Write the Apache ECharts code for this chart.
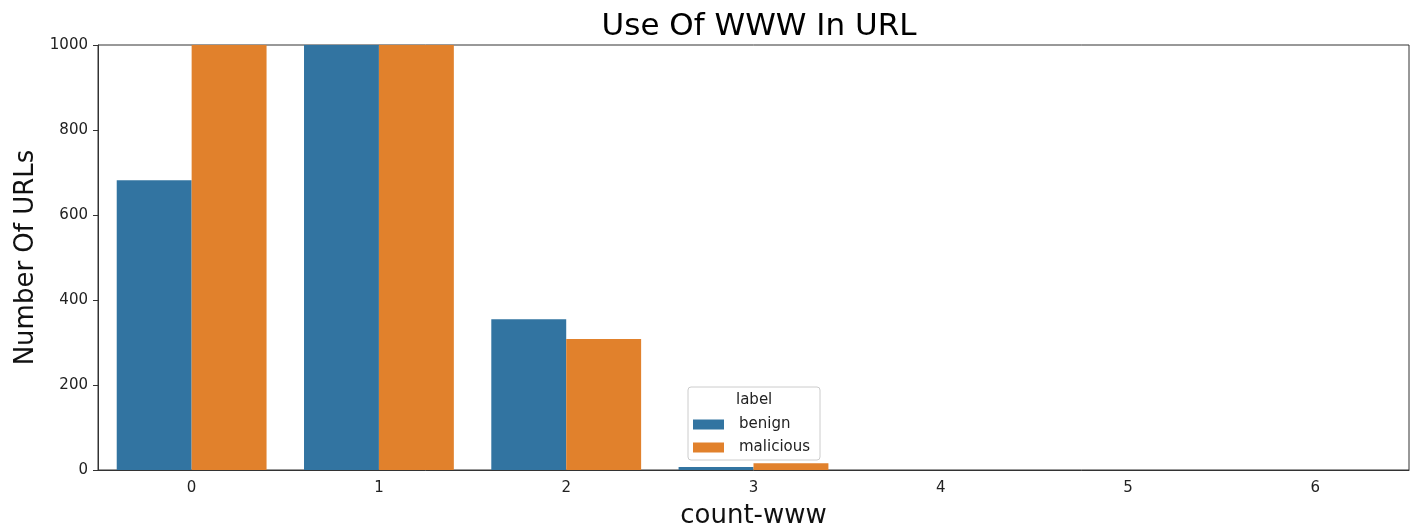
<!DOCTYPE html>
<html><head><meta charset="utf-8">
<script src="https://cdn.jsdelivr.net/npm/echarts@6/dist/echarts.min.js"></script>
<style>html,body{margin:0;padding:0;background:#fff}#c{width:1414px;height:529px}</style>
</head><body><div id="c"></div>
<script>
const categories = ['0','1','2','3','4','5','6'];
const benign = [682, 1200, 355, 7, 0, 0, 0];
const malicious = [1250, 1200, 308, 16, 0, 0, 0];
const yTicks = [0, 200, 400, 600, 800, 1000];
const seriesNames = ['benign', 'malicious'];

const FONT = 'DejaVu Sans';
const chart = echarts.init(document.getElementById('c'));
chart.setOption({
  animation: false,
  backgroundColor: '#fff',
  textStyle: {fontFamily: FONT},
  title: {text: 'Use Of WWW In URL', left: 754, top: 6, textAlign: 'center',
    textStyle: {fontSize: 31, fontWeight: 'normal', color: '#000', fontFamily: FONT}},
  grid: {left: 98, right: 5, top: 45, bottom: 59, containLabel: false, outerBoundsMode: 'none',
    show: true, borderColor: '#333', borderWidth: 1, backgroundColor: 'transparent'},
  legend: {
    data: seriesNames, orient: 'vertical', left: 688, top: 412,
    itemWidth: 31, itemHeight: 10, itemGap: 8,
    icon: 'rect',
    textStyle: {fontSize: 15, color: '#222', fontFamily: FONT, padding: [0, 0, 0, 10]}
  },
  graphic: [
    {type: 'rect', shape: {x: 688, y: 387, width: 132, height: 73, r: 3},
      style: {fill: 'rgba(255,255,255,0.8)', stroke: '#ccc', lineWidth: 1}, z: 0},
    {type: 'text', left: 736, top: 393, style: {text: 'label', fontSize: 15, fill: '#222', fontFamily: FONT}, z: 5}
  ],
  xAxis: {
    type: 'category', data: categories,
    name: 'count-www', nameLocation: 'middle', nameGap: 33,
    nameTextStyle: {fontSize: 26, color: '#111', fontFamily: FONT},
    axisLine: {lineStyle: {color: '#333'}},
    axisTick: {alignWithLabel: true, length: 5, lineStyle: {color: '#333'}},
    axisLabel: {fontSize: 15, color: '#222', margin: 11}
  },
  yAxis: {
    type: 'value', min: 0, max: 1000, interval: 200,
    name: 'Number Of URLs', nameLocation: 'middle', nameGap: 50,
    nameTextStyle: {fontSize: 26, color: '#111', fontFamily: FONT},
    axisLine: {show: true, lineStyle: {color: '#333'}},
    axisTick: {show: true, length: 5, lineStyle: {color: '#333'}},
    axisLabel: {fontSize: 15, color: '#222', margin: 10,
      formatter: v => yTicks.includes(v) ? String(v) : ''},
    splitLine: {show: false}
  },
  series: [
    {name: seriesNames[0], type: 'bar', data: benign, barGap: '0%', barCategoryGap: '20%',
      itemStyle: {color: '#3274a1'}, clip: true},
    {name: seriesNames[1], type: 'bar', data: malicious, barGap: '0%', barCategoryGap: '20%',
      itemStyle: {color: '#e1812c'}, clip: true}
  ]
});
</script></body></html>
